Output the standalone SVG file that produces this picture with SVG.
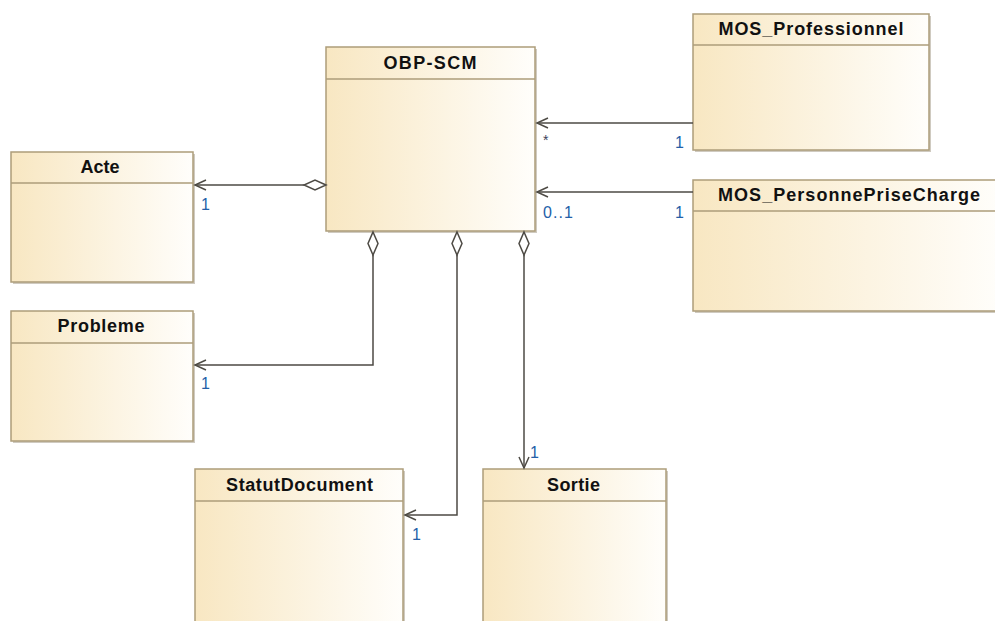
<svg xmlns="http://www.w3.org/2000/svg" width="995" height="621" viewBox="0 0 995 621">
<defs>
<linearGradient id="g" x1="0" y1="0" x2="1" y2="0">
<stop offset="0" stop-color="#f8e7c2"/>
<stop offset="1" stop-color="#fffefb"/>
</linearGradient>
<style>
.sh{fill:#cfcac0;}
.box{fill:url(#g);stroke:#ad9d7a;stroke-width:1.5;}
.sep{stroke:#ad9d7a;stroke-width:1.5;}
.t{font-family:"Liberation Sans",Arial,sans-serif;font-weight:bold;font-size:18px;fill:#111;text-anchor:middle;}
.c{fill:none;stroke:#4d4a44;stroke-width:1.5;}
.d{fill:#fff;stroke:#4d4a44;stroke-width:1.5;}
.m{font-family:"Liberation Sans",Arial,sans-serif;font-size:16px;fill:#2360a8;}
</style>
</defs>
<rect width="995" height="621" fill="#fff"/>
<g id="OBP-SCM">
<rect class="sh" x="328" y="49" width="209" height="184"/>
<rect class="box" x="326" y="47" width="209" height="184"/>
<line class="sep" x1="326" y1="79" x2="535" y2="79"/>
<text class="t" x="430" y="69" textLength="93" lengthAdjust="spacing">OBP-SCM</text>
</g>
<g id="Acte">
<rect class="sh" x="13" y="154" width="182" height="130"/>
<rect class="box" x="11" y="152" width="182" height="130"/>
<line class="sep" x1="11" y1="183" x2="193" y2="183"/>
<text class="t" x="100" y="173" textLength="39" lengthAdjust="spacing">Acte</text>
</g>
<g id="Probleme">
<rect class="sh" x="13" y="313" width="182" height="130"/>
<rect class="box" x="11" y="311" width="182" height="130"/>
<line class="sep" x1="11" y1="343" x2="193" y2="343"/>
<text class="t" x="101" y="332" textLength="87" lengthAdjust="spacing">Probleme</text>
</g>
<g id="MOS_Professionnel">
<rect class="sh" x="695" y="16" width="236" height="136"/>
<rect class="box" x="693" y="14" width="236" height="136"/>
<line class="sep" x1="693" y1="45" x2="929" y2="45"/>
<text class="t" x="811" y="35" textLength="185" lengthAdjust="spacing">MOS_Professionnel</text>
</g>
<g id="MOS_PersonnePriseCharge">
<rect class="sh" x="695" y="182" width="310" height="131"/>
<rect class="box" x="693" y="180" width="310" height="131"/>
<line class="sep" x1="693" y1="211" x2="1003" y2="211"/>
<text class="t" x="849" y="201" textLength="262" lengthAdjust="spacing">MOS_PersonnePriseCharge</text>
</g>
<g id="StatutDocument">
<rect class="sh" x="197" y="471" width="208" height="160"/>
<rect class="box" x="195" y="469" width="208" height="160"/>
<line class="sep" x1="195" y1="501" x2="403" y2="501"/>
<text class="t" x="299.5" y="491" textLength="147" lengthAdjust="spacing">StatutDocument</text>
</g>
<g id="Sortie">
<rect class="sh" x="485" y="471" width="183" height="160"/>
<rect class="box" x="483" y="469" width="183" height="160"/>
<line class="sep" x1="483" y1="501" x2="666" y2="501"/>
<text class="t" x="573.5" y="491" textLength="53" lengthAdjust="spacing">Sortie</text>
</g>
<g id="connectors">
<polyline class="c" points="304,185 195,185"/>
<polyline class="c" points="206,180 195,185 206,190"/>
<polygon class="d" points="326,185 315,180 304,185 315,190"/>
<text class="m" x="201" y="210">1</text>
<polyline class="c" points="693,123 537,123"/>
<polyline class="c" points="548,118 537,123 548,128"/>
<text class="m" x="543" y="145" style="font-size:14px;fill:#3a3f5a">*</text>
<text class="m" x="675" y="148">1</text>
<polyline class="c" points="693,192 537,192"/>
<polyline class="c" points="548,187 537,192 548,197"/>
<text class="m" x="543" y="218" textLength="30" lengthAdjust="spacing">0..1</text>
<text class="m" x="675" y="218">1</text>
<polyline class="c" points="373,255 373,365 195,365"/>
<polyline class="c" points="206,360 195,365 206,370"/>
<polygon class="d" points="373,232 378,243.5 373,255 368,243.5"/>
<text class="m" x="201" y="389">1</text>
<polyline class="c" points="457,255 457,515 405,515"/>
<polyline class="c" points="416,510 405,515 416,520"/>
<polygon class="d" points="457,232 462,243.5 457,255 452,243.5"/>
<text class="m" x="412" y="540">1</text>
<polyline class="c" points="524,255 524,468"/>
<polyline class="c" points="519,457 524,468 529,457"/>
<polygon class="d" points="524,232 529,243.5 524,255 519,243.5"/>
<text class="m" x="530" y="458">1</text>
</g>
</svg>
